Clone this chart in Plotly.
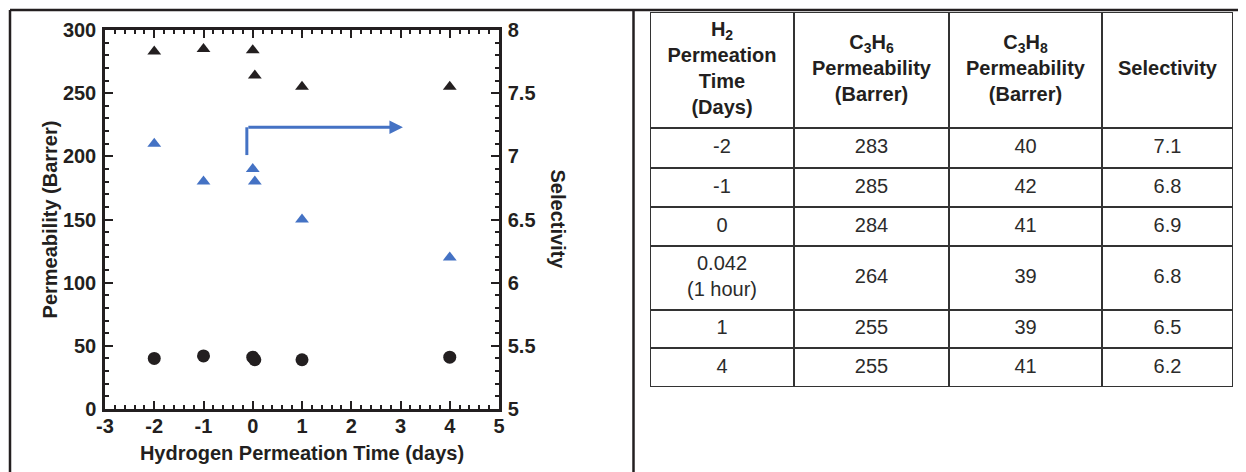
import plotly.graph_objects as go

# ---------------- data ----------------
time_days = [-2, -1, 0, 0.042, 1, 4]
time_labels = ["-2", "-1", "0", "0.042<br>(1 hour)", "1", "4"]
c3h6_perm = [283, 285, 284, 264, 255, 255]
c3h8_perm = [40, 42, 41, 39, 39, 41]
selectivity = [7.1, 6.8, 6.9, 6.8, 6.5, 6.2]

x_tick_vals = [-3, -2, -1, 0, 1, 2, 3, 4, 5]
x_tick_text = ["-3", "-2", "-1", "0", "1", "2", "3", "4", "5"]
y_tick_vals = [0, 50, 100, 150, 200, 250, 300]
y2_tick_vals = [5, 5.5, 6, 6.5, 7, 7.5, 8]
y2_tick_text = ["5", "5.5", "6", "6.5", "7", "7.5", "8"]

header_labels = [
    "H<sub>2</sub><br>Permeation<br>Time<br>(Days)",
    "C<sub>3</sub>H<sub>6</sub><br>Permeability<br>(Barrer)",
    "C<sub>3</sub>H<sub>8</sub><br>Permeability<br>(Barrer)",
    "Selectivity",
]

x_title = "Hydrogen Permeation Time (days)"
y_title = "Permeability (Barrer)"
y2_title = "Selectivity"

# ---------------- styling / layout constants ----------------
W, H = 1238, 464          # figure size (page has an 8px body margin)
OFF = 8                   # body margin of the html page
PAGE_W = 1246
INK = "#231F20"
BLUE = "#4472C4"
FONT = "Liberation Sans, Arial, sans-serif"
FS = 20

# plot area in page pixels
PX0, PX1, PY0, PY1 = 105, 499, 30, 409
# table grid in page pixels
col_edges = [650, 794, 949, 1102, 1233]
row_edges = [12, 128, 168, 207, 246, 310, 348, 387]

# arrow (data coordinates of the L-shaped pointer)
arrow_x0, arrow_ybot, arrow_y, arrow_xtip = -0.12, 201, 223, 3.05


def fx(px):
    return (px - OFF) / W


def fy(py):
    return 1 - (py - OFF) / H


fig = go.Figure()

# --------------- chart traces ---------------
fig.add_trace(go.Scatter(
    x=time_days, y=c3h6_perm, mode="markers", name="C3H6 permeability",
    marker=dict(symbol="triangle-up", size=12, color=INK), xaxis="x", yaxis="y"))
fig.add_trace(go.Scatter(
    x=time_days, y=c3h8_perm, mode="markers", name="C3H8 permeability",
    marker=dict(symbol="circle", size=13, color=INK), xaxis="x", yaxis="y"))
fig.add_trace(go.Scatter(
    x=time_days, y=selectivity, mode="markers", name="Selectivity",
    marker=dict(symbol="triangle-up", size=12, color=BLUE), xaxis="x", yaxis="y2"))

# --------------- table (on its own hidden axes, in page-pixel units) ---------------
col_centers = [(col_edges[i] + col_edges[i + 1]) / 2 for i in range(4)]
row_centers = [(row_edges[i] + row_edges[i + 1]) / 2 for i in range(len(row_edges) - 1)]

fig.add_trace(go.Scatter(
    x=col_centers, y=[row_centers[0]] * 4, text=header_labels, mode="text",
    textposition="middle center",
    textfont=dict(family=FONT, size=FS, color=INK, weight="bold"),
    xaxis="x3", yaxis="y3", hoverinfo="skip", showlegend=False))

body_x, body_y, body_t = [], [], []
for r, (t, a, b, s) in enumerate(zip(time_labels, c3h6_perm, c3h8_perm, selectivity)):
    yc = row_centers[r + 1]
    for c, txt in enumerate([t, str(a), str(b), f"{s:.1f}"]):
        body_x.append(col_centers[c])
        body_y.append(yc)
        body_t.append(txt)
fig.add_trace(go.Scatter(
    x=body_x, y=body_y, text=body_t, mode="text", textposition="middle center",
    textfont=dict(family=FONT, size=FS, color="#2b2b2b"),
    xaxis="x3", yaxis="y3", hoverinfo="skip", showlegend=False))

shapes = []
# table grid lines
for xe in col_edges:
    shapes.append(dict(type="line", xref="x3", yref="y3", x0=xe, x1=xe,
                       y0=row_edges[0], y1=row_edges[-1],
                       line=dict(color="#333333", width=2)))
for ye in row_edges:
    shapes.append(dict(type="line", xref="x3", yref="y3", x0=col_edges[0], x1=col_edges[-1],
                       y0=ye, y1=ye, line=dict(color="#333333", width=2)))

# outer frame of the figure panel
shapes.append(dict(type="line", xref="paper", yref="paper", x0=fx(10), x1=fx(PAGE_W),
                   y0=fy(10), y1=fy(10), line=dict(color=INK, width=2.5)))
shapes.append(dict(type="line", xref="paper", yref="paper", x0=fx(10), x1=fx(10),
                   y0=fy(10), y1=0, line=dict(color=INK, width=2.5)))
shapes.append(dict(type="line", xref="paper", yref="paper", x0=fx(633.5), x1=fx(633.5),
                   y0=fy(10), y1=0, line=dict(color=INK, width=2.5)))

# vertical part of the blue pointer
shapes.append(dict(type="line", xref="x", yref="y", x0=arrow_x0, x1=arrow_x0,
                   y0=arrow_ybot, y1=arrow_y, line=dict(color=BLUE, width=3)))

annotations = [
    dict(x=arrow_xtip, y=arrow_y, ax=arrow_x0, ay=arrow_y, xref="x", yref="y",
         axref="x", ayref="y", showarrow=True, arrowhead=2, arrowsize=0.9,
         arrowwidth=3, arrowcolor=BLUE, text=""),
    dict(x=fx(557), y=fy((PY0 + PY1) / 2), xref="paper", yref="paper",
         text=y2_title, textangle=90, showarrow=False,
         font=dict(family=FONT, size=FS, color=INK, weight="bold")),
]

axis_common = dict(
    showline=True, linecolor=INK, linewidth=2.5, ticks="inside",
    tickcolor=INK, tickwidth=2, ticklen=8, showgrid=False, zeroline=False,
    automargin=False,
    tickfont=dict(family=FONT, size=FS, color=INK, weight="bold"),
)

fig.update_layout(
    template="none",
    width=W, height=H, autosize=False,
    margin=dict(l=0, r=0, t=0, b=0, pad=0),
    paper_bgcolor="white", plot_bgcolor="white",
    showlegend=False,
    xaxis=dict(
        domain=[fx(PX0), fx(PX1)], range=[-3, 5], tickmode="array",
        tickvals=x_tick_vals, ticktext=x_tick_text,
        mirror="ticks", anchor="y", ticklabelstandoff=-3,
        minor=dict(dtick=0.2, tick0=0, ticks="inside", ticklen=4, tickwidth=1.5,
                   tickcolor=INK, showgrid=False),
        title=dict(text=x_title, standoff=11,
                   font=dict(family=FONT, size=FS, color=INK, weight="bold")),
        **axis_common),
    yaxis=dict(
        domain=[fy(PY1), fy(PY0)], range=[0, 300], tickmode="array",
        tickvals=y_tick_vals, anchor="x", ticklabelstandoff=2,
        minor=dict(dtick=10, tick0=0, ticks="inside", ticklen=4, tickwidth=1.5,
                   tickcolor=INK, showgrid=False),
        title=dict(text=y_title, standoff=0,
                   font=dict(family=FONT, size=FS, color=INK, weight="bold")),
        **axis_common),
    yaxis2=dict(
        overlaying="y", side="right", anchor="x", range=[5, 8], tickmode="array",
        tickvals=y2_tick_vals, ticktext=y2_tick_text, ticklabelstandoff=2,
        minor=dict(dtick=0.1, tick0=5, ticks="inside", ticklen=4, tickwidth=1.5,
                   tickcolor=INK, showgrid=False),
        **axis_common),
    xaxis3=dict(domain=[fx(col_edges[0]), fx(col_edges[-1])],
                range=[col_edges[0], col_edges[-1]], visible=False, anchor="y3",
                fixedrange=True, automargin=False),
    yaxis3=dict(domain=[fy(row_edges[-1]), fy(row_edges[0])],
                range=[row_edges[-1], row_edges[0]], visible=False, anchor="x3",
                fixedrange=True, automargin=False),
    shapes=shapes,
    annotations=annotations,
)

fig.write_html("out.html")
